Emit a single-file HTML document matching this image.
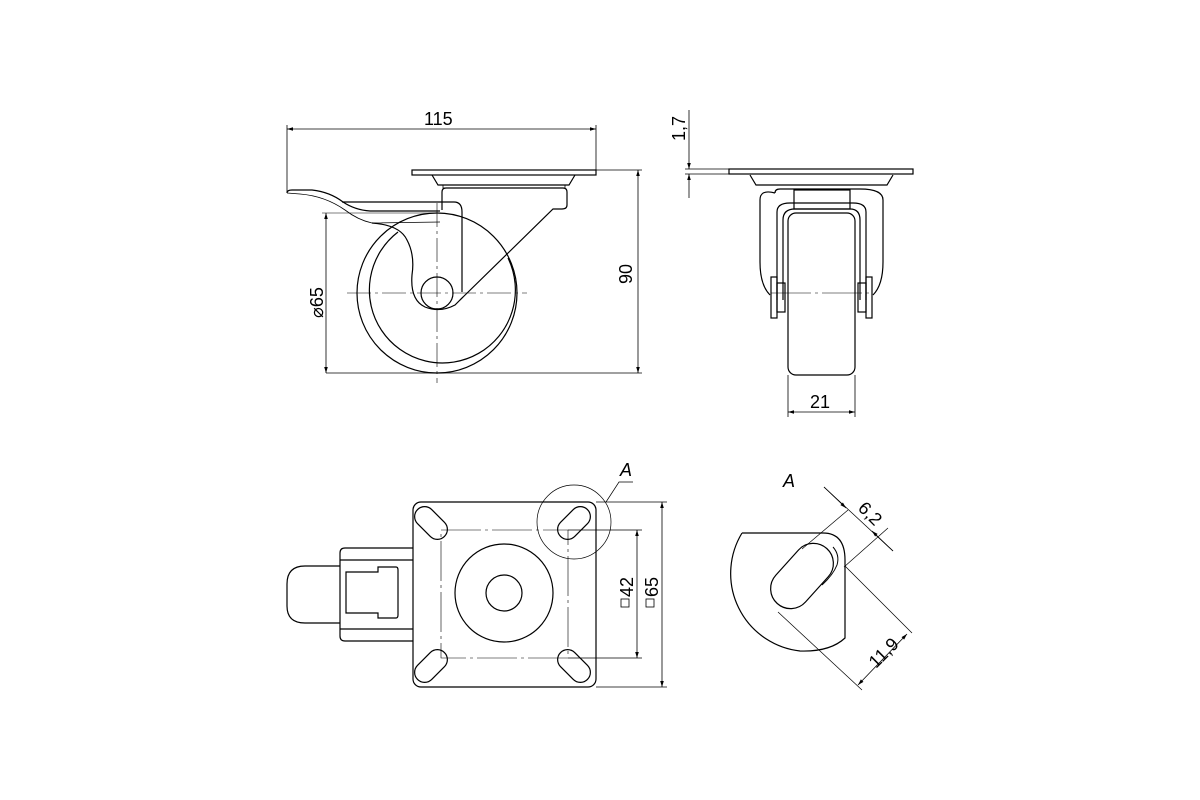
<!DOCTYPE html>
<html><head><meta charset="utf-8"><style>html,body{margin:0;background:#fff}svg{display:block}text{font-family:"Liberation Sans",sans-serif;font-size:18px;fill:#000}</style></head><body>
<svg width="1200" height="800" viewBox="0 0 1200 800" xmlns="http://www.w3.org/2000/svg">
<defs><marker id="a" viewBox="0 0 10 10" refX="10" refY="5" markerWidth="10" markerHeight="6" orient="auto-start-reverse" markerUnits="userSpaceOnUse"><path d="M0,2 L10,5 L0,8 z" fill="#000"/></marker></defs>
<g fill="none" stroke="#000" stroke-width="1.2">
<!-- SIDE VIEW -->
<line x1="287" y1="125" x2="287" y2="193" stroke-width="0.8"/>
<line x1="596" y1="125" x2="596" y2="171" stroke-width="0.8"/>
<line x1="287" y1="129" x2="596" y2="129" stroke-width="0.8" marker-start="url(#a)" marker-end="url(#a)"/>
<rect x="412" y="170" width="184" height="5"/>
<path d="M432,175 L438,185 L569,185 L575,175"/>
<path d="M443,185 L443,188 L565,188 L565,185" stroke-width="0.8"/>
<path d="M442,210 L442,192 Q442,188 446,188 L563,188 Q567,188 567,192 L567,205 Q567,209 562,209 L553,209 L460,300"/>
<path d="M342,202 L454,202 Q462,202 462,212 L462,292"/>
<path d="M287,193 Q287,190 292,190 L312,190 Q330,192 343,202 Q355,210 370,211 L440,211" />
<path d="M287,193 L300,194 Q325,196 345,210 Q358,220 372,223 L440,222" stroke-width="0.8"/>
<circle cx="437" cy="293" r="80"/>
<path d="M398,232 A73,73 0 1,0 508,258"/>
<path d="M372,223 Q400,225 407,240 Q415,255 412,275 Q410,300 425,307 Q440,313 455,305 L463,297"/>
<circle cx="437" cy="293" r="16"/>
<g stroke-width="0.6" stroke-dasharray="24,4,3,4"><line x1="347" y1="293" x2="527" y2="293"/><line x1="437" y1="203" x2="437" y2="383"/></g>
<line x1="322" y1="213" x2="440" y2="213" stroke-width="0.6"/>
<line x1="326" y1="213" x2="326" y2="373" stroke-width="0.8" marker-start="url(#a)" marker-end="url(#a)"/>
<line x1="326" y1="373" x2="642" y2="373" stroke-width="0.8"/>
<line x1="596" y1="170" x2="642" y2="170" stroke-width="0.8"/>
<line x1="638" y1="170" x2="638" y2="373" stroke-width="0.8" marker-start="url(#a)" marker-end="url(#a)"/>
<!-- FRONT VIEW -->
<line x1="689" y1="110" x2="689" y2="169" stroke-width="0.8" marker-end="url(#a)"/>
<line x1="689" y1="174" x2="689" y2="198" stroke-width="0.8" marker-start="url(#a)"/>
<line x1="685" y1="169" x2="729" y2="169" stroke-width="0.8"/>
<line x1="685" y1="174" x2="729" y2="174" stroke-width="0.8"/>
<rect x="729" y="169" width="184" height="5"/>
<path d="M750,175 L756,185 L887,185 L893,175"/>
<path d="M775,193 Q775,189 780,189 L860,189 Q883,189 883,200 L883,262 Q883,285 873,295 M775,193 Q760,189 760,200 L760,262 Q760,285 770,295"/>
<rect x="794" y="190" width="56" height="19"/>
<path d="M783,300 L783,220 Q783,209 795,209 L850,209 Q860,209 860,220 L860,300"/>
<path d="M777,300 L777,212 Q777,203 790,203 L853,203 Q866,203 866,212 L866,300"/>
<rect x="788" y="213" width="67" height="162" rx="8"/>
<rect x="771" y="277" width="6" height="41"/><rect x="777" y="283" width="8" height="29"/>
<rect x="866" y="277" width="6" height="41"/><rect x="858" y="283" width="8" height="29"/>
<line x1="771" y1="293" x2="873" y2="293" stroke-width="0.6" stroke-dasharray="40,4,3,4"/>
<line x1="788" y1="375" x2="788" y2="417" stroke-width="0.8"/><line x1="855" y1="375" x2="855" y2="417" stroke-width="0.8"/>
<line x1="788" y1="412" x2="855" y2="412" stroke-width="0.8" marker-start="url(#a)" marker-end="url(#a)"/>
<!-- BOTTOM VIEW -->
<rect x="413" y="502" width="183" height="185" rx="8"/>
<rect x="441" y="530" width="127" height="128" stroke-width="0.6" stroke-dasharray="40,4,3,4"/>
<circle cx="504" cy="593" r="49"/><circle cx="504" cy="593" r="18"/>
<g transform="translate(431,523) rotate(45)"><rect x="-19" y="-10" width="38" height="20" rx="10"/></g>
<g transform="translate(574,523) rotate(-45)"><rect x="-19" y="-10" width="38" height="20" rx="10"/></g>
<g transform="translate(431,666) rotate(-45)"><rect x="-19" y="-10" width="38" height="20" rx="10"/></g>
<g transform="translate(574,666) rotate(45)"><rect x="-19" y="-10" width="38" height="20" rx="10"/></g>
<path d="M413,548 L345,548 Q340,548 340,553 L340,636 Q340,641 345,641 L413,641"/>
<line x1="340" y1="560" x2="413" y2="560"/><line x1="340" y1="629" x2="413" y2="629"/>
<path d="M340,566 L305,566 Q287,566 287,584 L287,606 Q287,623 305,623 L340,623"/>
<path d="M346,572 L378,572 L378,567 L396,567 Q398,567 398,570 L398,615 Q398,618 396,618 L378,618 L378,613 L346,613 Z"/>
<circle cx="574" cy="522" r="37" stroke-width="0.7"/>
<path d="M606,502 L619,482 L633,482" stroke-width="0.7"/>
<line x1="568" y1="530" x2="642" y2="530" stroke-width="0.7"/><line x1="568" y1="658" x2="642" y2="658" stroke-width="0.7"/>
<line x1="596" y1="502" x2="667" y2="502" stroke-width="0.7"/><line x1="596" y1="687" x2="667" y2="687" stroke-width="0.7"/>
<line x1="637" y1="530" x2="637" y2="658" stroke-width="0.8" marker-start="url(#a)" marker-end="url(#a)"/>
<line x1="662" y1="502" x2="662" y2="687" stroke-width="0.8" marker-start="url(#a)" marker-end="url(#a)"/>
<rect x="621" y="599" width="8" height="8" stroke-width="0.8"/><rect x="646" y="599" width="8" height="8" stroke-width="0.8"/>
<!-- DETAIL A -->
<path d="M742,533 L823,533 Q845,533 845,560 L845,638 Q830,652 800,651 A78,78 0 0,1 742,533"/>
<g transform="translate(802,576) rotate(-48)"><rect x="-37" y="-20" width="74" height="40" rx="20"/></g>
<path d="M833,547 Q840,555 837,565 Q833,575 822,585" stroke-width="1"/>
<g stroke-width="0.7">
<line x1="802" y1="549" x2="848" y2="510"/><line x1="844" y1="567" x2="888" y2="528"/>
<line x1="824" y1="487" x2="893" y2="551"/>
<line x1="845" y1="566" x2="912" y2="633"/><line x1="778" y1="612" x2="862" y2="690"/>
</g>
<line x1="824" y1="487" x2="846" y2="508" stroke-width="0.8" marker-end="url(#a)"/>
<line x1="893" y1="551" x2="872" y2="531" stroke-width="0.8" marker-end="url(#a)"/>
<line x1="907" y1="634" x2="858" y2="685" stroke-width="0.8" marker-start="url(#a)" marker-end="url(#a)"/>
</g>
<text x="424" y="125">115</text>
<text transform="translate(632,284) rotate(-90)">90</text>
<text transform="translate(323,318) rotate(-90)">⌀65</text>
<text transform="translate(685,141) rotate(-90)">1,7</text>
<text x="810" y="408">21</text>
<text x="620" y="476" font-style="italic">A</text>
<text x="783" y="487" font-style="italic">A</text>
<text transform="translate(633,597) rotate(-90)">42</text>
<text transform="translate(658,597) rotate(-90)">65</text>
<text transform="translate(857,509) rotate(45)">6,2</text>
<text transform="translate(876,669) rotate(-45)">11,9</text>
</svg>
</body></html>
